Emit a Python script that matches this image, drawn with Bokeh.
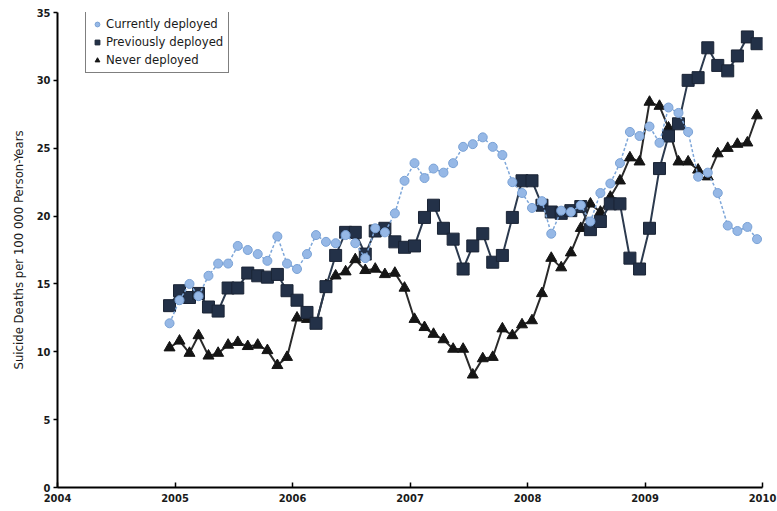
from datetime import date

from bokeh.embed import file_html
from bokeh.models import (BasicTickFormatter, ColumnDataSource, FixedTicker,
                          Legend, LegendItem, Range1d)
from bokeh.plotting import figure
from bokeh.resources import INLINE

# Monthly rates, December 2004 through December 2009
start_year, start_month, n_months = 2004, 12, 61

currently_deployed = [
    12.1, 13.8, 15.0, 14.1, 15.6, 16.5, 16.5, 17.8, 17.5, 17.2, 16.7, 18.5, 16.5,
    16.1, 17.2, 18.6, 18.1, 18.0, 18.6, 18.0, 16.9, 19.1, 18.8, 20.2, 22.6,
    23.9, 22.8, 23.5, 23.2, 23.9, 25.1, 25.3, 25.8, 25.1, 24.5, 22.5, 21.7, 20.6,
    21.1, 18.7, 20.4, 20.3, 20.8, 19.6, 21.7, 22.4, 23.9, 26.2, 25.9, 26.6, 25.4,
    28.0, 27.6, 26.2, 22.9, 23.2, 21.7, 19.3, 18.9, 19.2, 18.3,
]
previously_deployed = [
    13.4, 14.5, 14.0, 14.3, 13.3, 13.0, 14.7, 14.7, 15.8, 15.6, 15.5, 15.7, 14.5,
    13.8, 12.9, 12.1, 14.8, 17.1, 18.8, 18.8, 17.2, 18.9, 19.1, 18.1, 17.7,
    17.8, 19.9, 20.8, 19.1, 18.3, 16.1, 17.8, 18.7, 16.6, 17.1, 19.9, 22.6, 22.6,
    20.8, 20.3, 20.2, 20.4, 20.7, 19.0, 19.6, 20.9, 20.9, 16.9, 16.1, 19.1, 23.5,
    25.9, 26.8, 30.0, 30.2, 32.4, 31.1, 30.7, 31.8, 33.2, 32.7,
]
never_deployed = [
    10.3, 10.8, 9.9, 11.2, 9.7, 9.9, 10.5, 10.7, 10.4, 10.5, 10.1, 9.0, 9.6,
    12.5, 12.4, 12.0, 14.9, 15.6, 15.9, 16.8, 16.0, 16.1, 15.7, 15.8, 14.7,
    12.4, 11.8, 11.3, 10.9, 10.2, 10.2, 8.3, 9.5, 9.6, 11.7, 11.2, 12.0, 12.3,
    14.3, 16.9, 16.2, 17.3, 19.1, 20.9, 20.3, 21.4, 22.6, 24.3, 24.0, 28.4, 28.1,
    26.5, 24.0, 24.0, 23.4, 22.9, 24.6, 25.0, 25.3, 25.4, 27.4,
]

year_ticks = [2004, 2005, 2006, 2007, 2008, 2009, 2010]
value_ticks = [0, 5, 10, 15, 20, 25, 30, 35]
y_label = "Suicide Deaths per 100 000 Person-Years"
series_names = ["Currently deployed", "Previously deployed", "Never deployed"]


def mid_month_decimal(k):
    """Decimal year at the middle of the k-th month after the start."""
    m = start_month - 1 + k
    y, mo = start_year + m // 12, m % 12 + 1
    d = date(y, mo, 15)
    y0 = date(y, 1, 1)
    return y + (d - y0).days / (date(y + 1, 1, 1) - y0).days


x = [mid_month_decimal(k) for k in range(n_months)]
src = ColumnDataSource(dict(x=x, cur=currently_deployed,
                            prev=previously_deployed, never=never_deployed))

FONT = "DejaVu Sans Condensed, DejaVu Sans, sans-serif"

p = figure(width=777, height=511, output_backend="svg", toolbar_location=None,
           x_range=Range1d(2004, 2010), y_range=Range1d(0, 35),
           min_border_left=57, min_border_right=15, min_border_top=12,
           min_border_bottom=24)
p.outline_line_color = None
p.xgrid.visible = False
p.ygrid.visible = False
p.background_fill_color = "white"
p.border_fill_color = "white"

# Never deployed: black triangles, solid line
p.line("x", "never", source=src, line_color="#2a2a2a", line_width=2)
r_never = p.scatter("x", "never", source=src, marker="triangle", size=11,
                    fill_color="#151515", line_color="#151515")

# Previously deployed: dark navy squares, solid line
p.line("x", "prev", source=src, line_color="#2c3a4e", line_width=2)
r_prev = p.scatter("x", "prev", source=src, marker="square", size=12,
                   fill_color="#233148", line_color="#1a2435")

# Currently deployed: light blue circles, dashed line
p.line("x", "cur", source=src, line_color="#7da6d9", line_width=1.5,
       line_dash="3 2")
r_cur = p.scatter("x", "cur", source=src, marker="circle", size=9,
                  fill_color="#96b8e6", line_color="#7aa2d6", line_width=1)

for ax in (p.xaxis[0], p.yaxis[0]):
    ax.axis_line_color = "black"
    ax.axis_line_width = 2
    ax.major_tick_line_color = "black"
    ax.major_tick_line_width = 1.5
    ax.minor_tick_line_color = None
    ax.major_label_text_font = FONT
    ax.major_label_text_font_size = "11px"
    ax.major_label_text_font_style = "bold"
    ax.major_label_text_color = "#1a1a1a"

p.xaxis.ticker = FixedTicker(ticks=year_ticks)
p.xaxis.formatter = BasicTickFormatter(use_scientific=False)
p.xaxis.major_tick_in = 5
p.xaxis.major_tick_out = 0
p.xaxis.major_label_standoff = 6

p.yaxis.ticker = FixedTicker(ticks=value_ticks)
p.yaxis.major_tick_in = 0
p.yaxis.major_tick_out = 4
p.yaxis.major_label_standoff = 3
p.yaxis.axis_label = y_label
p.yaxis.axis_label_text_font = FONT
p.yaxis.axis_label_text_font_size = "13px"
p.yaxis.axis_label_text_font_style = "normal"
p.yaxis.axis_label_text_color = "#1a1a1a"
p.yaxis.axis_label_standoff = 8

legend = Legend(items=[
    LegendItem(label=series_names[0], renderers=[r_cur]),
    LegendItem(label=series_names[1], renderers=[r_prev]),
    LegendItem(label=series_names[2], renderers=[r_never]),
], location=(28, 414))
legend.border_line_color = "black"
legend.border_line_width = 1.5
legend.background_fill_color = "white"
legend.label_text_font = FONT
legend.label_text_font_size = "13px"
legend.label_text_color = "#1a1a1a"
legend.label_height = 14
legend.label_standoff = 3
legend.glyph_width = 12
legend.glyph_height = 12
legend.spacing = 3
legend.padding = 5
legend.margin = 0
p.add_layout(legend, "center")

open("out.html", "w").write(file_html(p, INLINE))
